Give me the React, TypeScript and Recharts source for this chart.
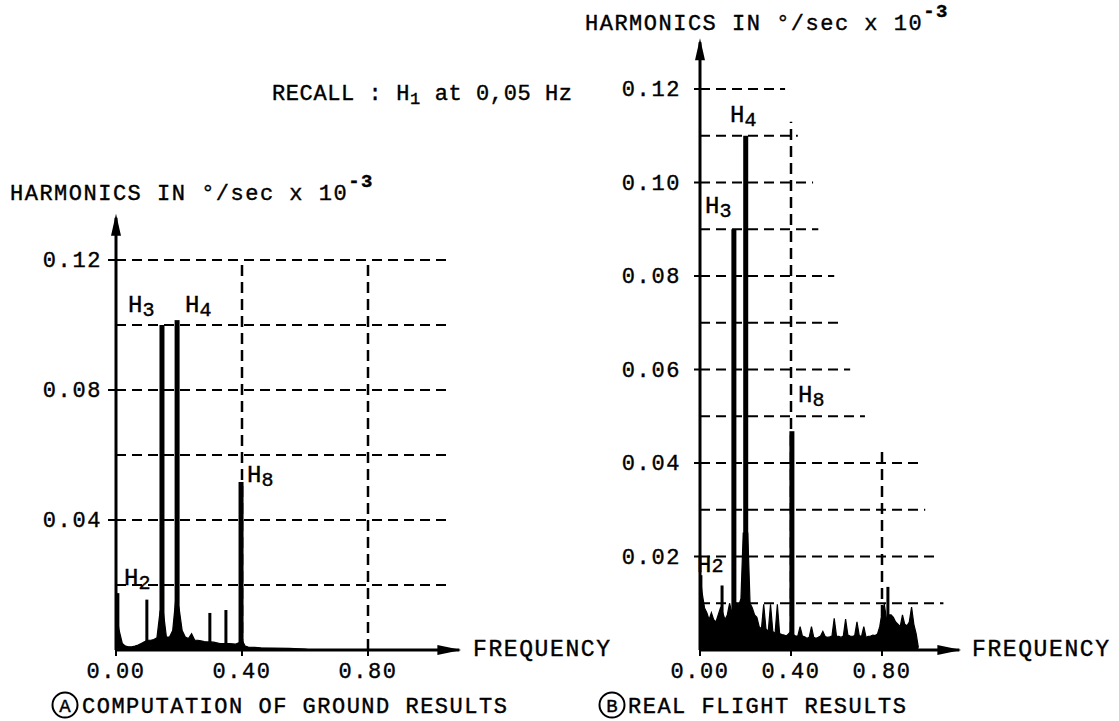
import React from 'react';
import { ComposedChart, Area, Bar, XAxis, YAxis, ReferenceLine, ReferenceDot } from 'recharts';

const FONT = '"Liberation Mono", "DejaVu Sans Mono", monospace';

// ---------- Chart A : computation of ground results ----------
const A_FREQ = [0, 0.01, 0.02, 0.03, 0.04, 0.05, 0.06, 0.07, 0.08, 0.09, 0.1, 0.11, 0.12, 0.13, 0.14, 0.15, 0.16, 0.17, 0.18, 0.19, 0.2, 0.21, 0.22, 0.23, 0.24, 0.25, 0.26, 0.27, 0.28, 0.29, 0.3, 0.31, 0.32, 0.33, 0.34, 0.35, 0.36, 0.37, 0.38, 0.39, 0.4, 0.41, 0.42, 0.44, 0.46, 0.5, 0.55, 0.6, 0.62];
const A_FLOOR = [0.012, 0.006, 0.002, 0.0012, 0.001, 0.001, 0.0012, 0.0015, 0.002, 0.0025, 0.003, 0.003, 0.0032, 0.0038, 0.012, 0.012, 0.004, 0.004, 0.006, 0.016, 0.013, 0.006, 0.004, 0.0035, 0.005, 0.003, 0.003, 0.0028, 0.0026, 0.0025, 0.0025, 0.0024, 0.0022, 0.002, 0.002, 0.002, 0.002, 0.0019, 0.0018, 0.0022, 0.003, 0.0012, 0.0009, 0.0008, 0.0007, 0.0006, 0.0005, 0.0003, 0];
const A_PEAK_FREQ = [0.006, 0.098, 0.146, 0.194, 0.298, 0.349, 0.397];
const A_PEAK = [0.0175, 0.0155, 0.1, 0.1015, 0.0114, 0.0123, 0.0517];
const A_X_TICKS = [0, 0.4, 0.8];
const A_Y_TICKS = [0.04, 0.08, 0.12];
const A_GRID_LEVELS = [0.02, 0.04, 0.06, 0.08, 0.1, 0.12];
const A_GRID_END = [1.054, 1.054, 1.054, 1.054, 1.054, 1.054];
const A_VLINE_FREQ = [0.4, 0.8];
const A_VLINE_TOP = [0.12, 0.12];

// ---------- Chart B : real flight results ----------
const B_FREQ = [0, 0.01, 0.02, 0.03, 0.04, 0.05, 0.06, 0.07, 0.08, 0.09, 0.1, 0.11, 0.12, 0.13, 0.14, 0.15, 0.16, 0.17, 0.18, 0.19, 0.2, 0.21, 0.22, 0.23, 0.24, 0.25, 0.26, 0.27, 0.28, 0.29, 0.3, 0.31, 0.32, 0.33, 0.34, 0.35, 0.36, 0.37, 0.38, 0.39, 0.4, 0.41, 0.42, 0.43, 0.44, 0.45, 0.46, 0.47, 0.48, 0.49, 0.5, 0.51, 0.52, 0.53, 0.54, 0.55, 0.56, 0.57, 0.58, 0.59, 0.6, 0.61, 0.62, 0.63, 0.64, 0.65, 0.66, 0.67, 0.68, 0.69, 0.7, 0.71, 0.72, 0.73, 0.74, 0.75, 0.76, 0.77, 0.78, 0.79, 0.8, 0.81, 0.82, 0.83, 0.84, 0.85, 0.86, 0.87, 0.88, 0.89, 0.9, 0.91, 0.92, 0.93, 0.94, 0.95, 0.96];
const B_FLOOR = [0.016, 0.012, 0.009, 0.008, 0.0065, 0.008, 0.0065, 0.006, 0.0075, 0.009, 0.008, 0.0065, 0.0075, 0.01, 0.008, 0.009, 0.01, 0.0095, 0.011, 0.025, 0.025, 0.025, 0.01, 0.009, 0.0075, 0.007, 0.005, 0.0045, 0.0098, 0.0045, 0.004, 0.0098, 0.004, 0.0035, 0.0098, 0.0035, 0.0033, 0.0032, 0.003, 0.0035, 0.004, 0.0033, 0.003, 0.003, 0.005, 0.003, 0.0028, 0.0025, 0.0027, 0.005, 0.0027, 0.0025, 0.0027, 0.003, 0.004, 0.0029, 0.0027, 0.0028, 0.003, 0.0068, 0.003, 0.0029, 0.0027, 0.003, 0.0066, 0.0032, 0.003, 0.0029, 0.0031, 0.006, 0.0031, 0.0029, 0.005, 0.0027, 0.0029, 0.003, 0.0032, 0.0031, 0.0034, 0.005, 0.008, 0.0098, 0.0065, 0.0075, 0.0075, 0.007, 0.006, 0.0055, 0.005, 0.0075, 0.0055, 0.0052, 0.006, 0.0092, 0.0055, 0.0035, 0.0005];
const B_PEAK_FREQ = [0.004, 0.097, 0.149, 0.201, 0.404, 0.826];
const B_PEAK = [0.016, 0.0138, 0.09, 0.11, 0.0468, 0.0135];
const B_X_TICKS = [0, 0.4, 0.8];
const B_Y_TICKS = [0.02, 0.04, 0.06, 0.08, 0.1, 0.12];
const B_GRID_LEVELS = [0.01, 0.02, 0.03, 0.04, 0.05, 0.06, 0.07, 0.08, 0.09, 0.1, 0.11, 0.12];
const B_GRID_END = [1.07, 1.046, 0.99, 0.96, 0.725, 0.66, 0.615, 0.59, 0.52, 0.497, 0.43, 0.374];
const B_VLINE_FREQ = [0.4, 0.8];
const B_VLINE_TOP = [0.113, 0.043];

type Row = { f: number; floor?: number; peak?: number };

function buildRows(freq: number[], floor: number[], peakF: number[], peak: number[]): Row[] {
  const map = new Map<number, Row>();
  freq.forEach((f, i) => map.set(f, { f, floor: floor[i] }));
  peakF.forEach((f, i) => {
    const r = map.get(f) ?? { f };
    r.peak = peak[i];
    map.set(f, r);
  });
  return Array.from(map.values()).sort((a, b) => a.f - b.f);
}

const SpikeShape = (props: any) => {
  const { x, y, width, height, payload } = props;
  if (!payload || payload.peak == null || !(height > 0)) return <g />;
  const w = payload.peak >= 0.04 ? 5 : 3;
  return <rect x={x + width / 2 - w / 2} y={y} width={w} height={height} fill="#000" />;
};

const upArrow = (p: any) => (
  <path d={`M${p.cx},${p.cy - 4} L${p.cx - 5},${p.cy + 18} L${p.cx + 5},${p.cy + 18} Z`} fill="#000" />
);
const rightArrow = (p: any) => (
  <path d={`M${p.cx + 2},${p.cy} L${p.cx - 22},${p.cy - 5} L${p.cx - 22},${p.cy + 5} Z`} fill="#000" />
);

const INK = { stroke: '#000', strokeWidth: 0.4 };

type SpecProps = {
  rows: Row[];
  xMax: number;
  yMax: number;
  margin: { top: number; right: number; bottom: number; left: number };
  xTicks: number[];
  yTicks: number[];
  gridLevels: number[];
  gridEnd: number[];
  vFreq: number[];
  vTop: number[];
  yTickSize: number;
  yTickMargin: number;
};

function Spectrum(p: SpecProps) {
  const dash = '10 6';
  return (
    <ComposedChart width={1119} height={721} data={p.rows} margin={p.margin}>
      <XAxis
        type="number"
        dataKey="f"
        domain={[0, p.xMax]}
        ticks={p.xTicks}
        interval={0}
        allowDataOverflow
        height={40}
        tickSize={6}
        tickMargin={2}
        axisLine={{ stroke: '#000', strokeWidth: 3 }}
        tickLine={{ stroke: '#000', strokeWidth: 2 }}
        tick={(t: any) => (
          <text x={t.x} y={t.y} dy={20} textAnchor="middle" fontFamily={FONT} fontSize={22} letterSpacing={1.6} fill="#000" {...INK}>
            {Number(t.payload.value).toFixed(2)}
          </text>
        )}
      />
      <YAxis
        type="number"
        domain={[0, p.yMax]}
        ticks={p.yTicks}
        interval={0}
        allowDataOverflow
        width={60}
        tickSize={p.yTickSize}
        tickMargin={p.yTickMargin}
        axisLine={{ stroke: '#000', strokeWidth: 3 }}
        tickLine={{ stroke: '#000', strokeWidth: 2 }}
        tick={(t: any) => (
          <text x={t.x} y={t.y} dy={7} textAnchor="end" fontFamily={FONT} fontSize={22} letterSpacing={1.6} fill="#000" {...INK}>
            {Number(t.payload.value).toFixed(2)}
          </text>
        )}
      />
      {p.gridLevels.map((lv, i) => (
        <ReferenceLine
          key={'h' + lv}
          segment={[{ x: 0, y: lv }, { x: p.gridEnd[i], y: lv }]}
          stroke="#000"
          strokeWidth={2}
          strokeDasharray={dash}
          ifOverflow="visible"
        />
      ))}
      {p.vFreq.map((f, i) => (
        <ReferenceLine
          key={'v' + f}
          segment={[{ x: f, y: 0 }, { x: f, y: p.vTop[i] }]}
          stroke="#000"
          strokeWidth={2.5}
          strokeDasharray="11 6"
          ifOverflow="visible"
        />
      ))}
      <Area
        type="linear"
        dataKey="floor"
        connectNulls
        stroke="#000"
        strokeWidth={1.2}
        fill="#000"
        fillOpacity={1}
        isAnimationActive={false}
        dot={false}
        activeDot={false}
      />
      <Bar dataKey="peak" barSize={4} shape={SpikeShape} isAnimationActive={false} />
      <ReferenceDot x={0} y={p.yMax} r={0} ifOverflow="visible" shape={upArrow} />
      <ReferenceDot x={p.xMax} y={0} r={0} ifOverflow="visible" shape={rightArrow} />
    </ComposedChart>
  );
}

function HLabel({ x, y, sub, subDy = 4 }: { x: number; y: number; sub: string; subDy?: number }) {
  return (
    <text x={x} y={y} fontFamily={FONT} fontSize={24} fill="#000" {...INK}>
      H<tspan fontSize={20} dy={subDy}>{sub}</tspan>
    </text>
  );
}

export default function App() {
  const rowsA = buildRows(A_FREQ, A_FLOOR, A_PEAK_FREQ, A_PEAK);
  const rowsB = buildRows(B_FREQ, B_FLOOR, B_PEAK_FREQ, B_PEAK);
  return (
    <div style={{ position: 'absolute', left: 0, top: 0, width: 1119, height: 721, background: '#fff' }}>
      <div style={{ position: 'absolute', left: 0, top: 0 }}>
        <Spectrum
          rows={rowsA}
          xMax={1.09}
          yMax={0.133}
          margin={{ top: 217.75, right: 1119 - 459.35, bottom: 31, left: 56 }}
          xTicks={A_X_TICKS}
          yTicks={A_Y_TICKS}
          gridLevels={A_GRID_LEVELS}
          gridEnd={A_GRID_END}
          vFreq={A_VLINE_FREQ}
          vTop={A_VLINE_TOP}
          yTickSize={8}
          yTickMargin={6}
        />
      </div>
      <div style={{ position: 'absolute', left: 0, top: 0 }}>
        <Spectrum
          rows={rowsB}
          xMax={1.14}
          yMax={0.13}
          margin={{ top: 42.25, right: 1119 - 959.35, bottom: 31, left: 640 }}
          xTicks={B_X_TICKS}
          yTicks={B_Y_TICKS}
          gridLevels={B_GRID_LEVELS}
          gridEnd={B_GRID_END}
          vFreq={B_VLINE_FREQ}
          vTop={B_VLINE_TOP}
          yTickSize={6}
          yTickMargin={13}
        />
      </div>
      <svg width={1119} height={721} style={{ position: 'absolute', left: 0, top: 0, pointerEvents: 'none' }}>
        <g fontFamily={FONT} fill="#000" {...INK}>
          <text x={10} y={200} fontSize={22} letterSpacing={1.5}>
            HARMONICS IN °/sec x 10<tspan fontSize={19} fontWeight="bold" dy={-13}>-3</tspan>
          </text>
          <text x={585} y={30} fontSize={22} letterSpacing={1.5}>
            HARMONICS IN °/sec x 10<tspan fontSize={19} fontWeight="bold" dy={-13}>-3</tspan>
          </text>
          <text x={272} y={100} fontSize={22} letterSpacing={0.6}>
            RECALL : H<tspan fontSize={17} dy={4}>1</tspan><tspan dy={-4}> at 0,05 Hz</tspan>
          </text>
          <text x={473} y={656} fontSize={23} letterSpacing={1.6}>FREQUENCY</text>
          <text x={972} y={656} fontSize={23} letterSpacing={1.6}>FREQUENCY</text>

          <circle cx={65} cy={705} r={12.5} fill="none" stroke="#000" strokeWidth={2} />
          <text x={65} y={712} fontSize={19} textAnchor="middle">A</text>
          <text x={82} y={713} fontSize={22} letterSpacing={1.5}>COMPUTATION OF GROUND RESULTS</text>

          <circle cx={612} cy={705} r={12.5} fill="none" stroke="#000" strokeWidth={2} />
          <text x={612} y={712} fontSize={19} textAnchor="middle">B</text>
          <text x={628} y={713} fontSize={22} letterSpacing={1.5}>REAL FLIGHT RESULTS</text>

          <HLabel x={128} y={312} sub="3" />
          <HLabel x={185} y={312} sub="4" />
          <HLabel x={247} y={482} sub="8" />
          <HLabel x={124} y={585} sub="2" />

          <HLabel x={730} y={122} sub="4" />
          <HLabel x={705} y={213} sub="3" />
          <HLabel x={798} y={402} sub="8" />
          <HLabel x={697} y={572} sub="2" subDy={0} />
        </g>
      </svg>
    </div>
  );
}
